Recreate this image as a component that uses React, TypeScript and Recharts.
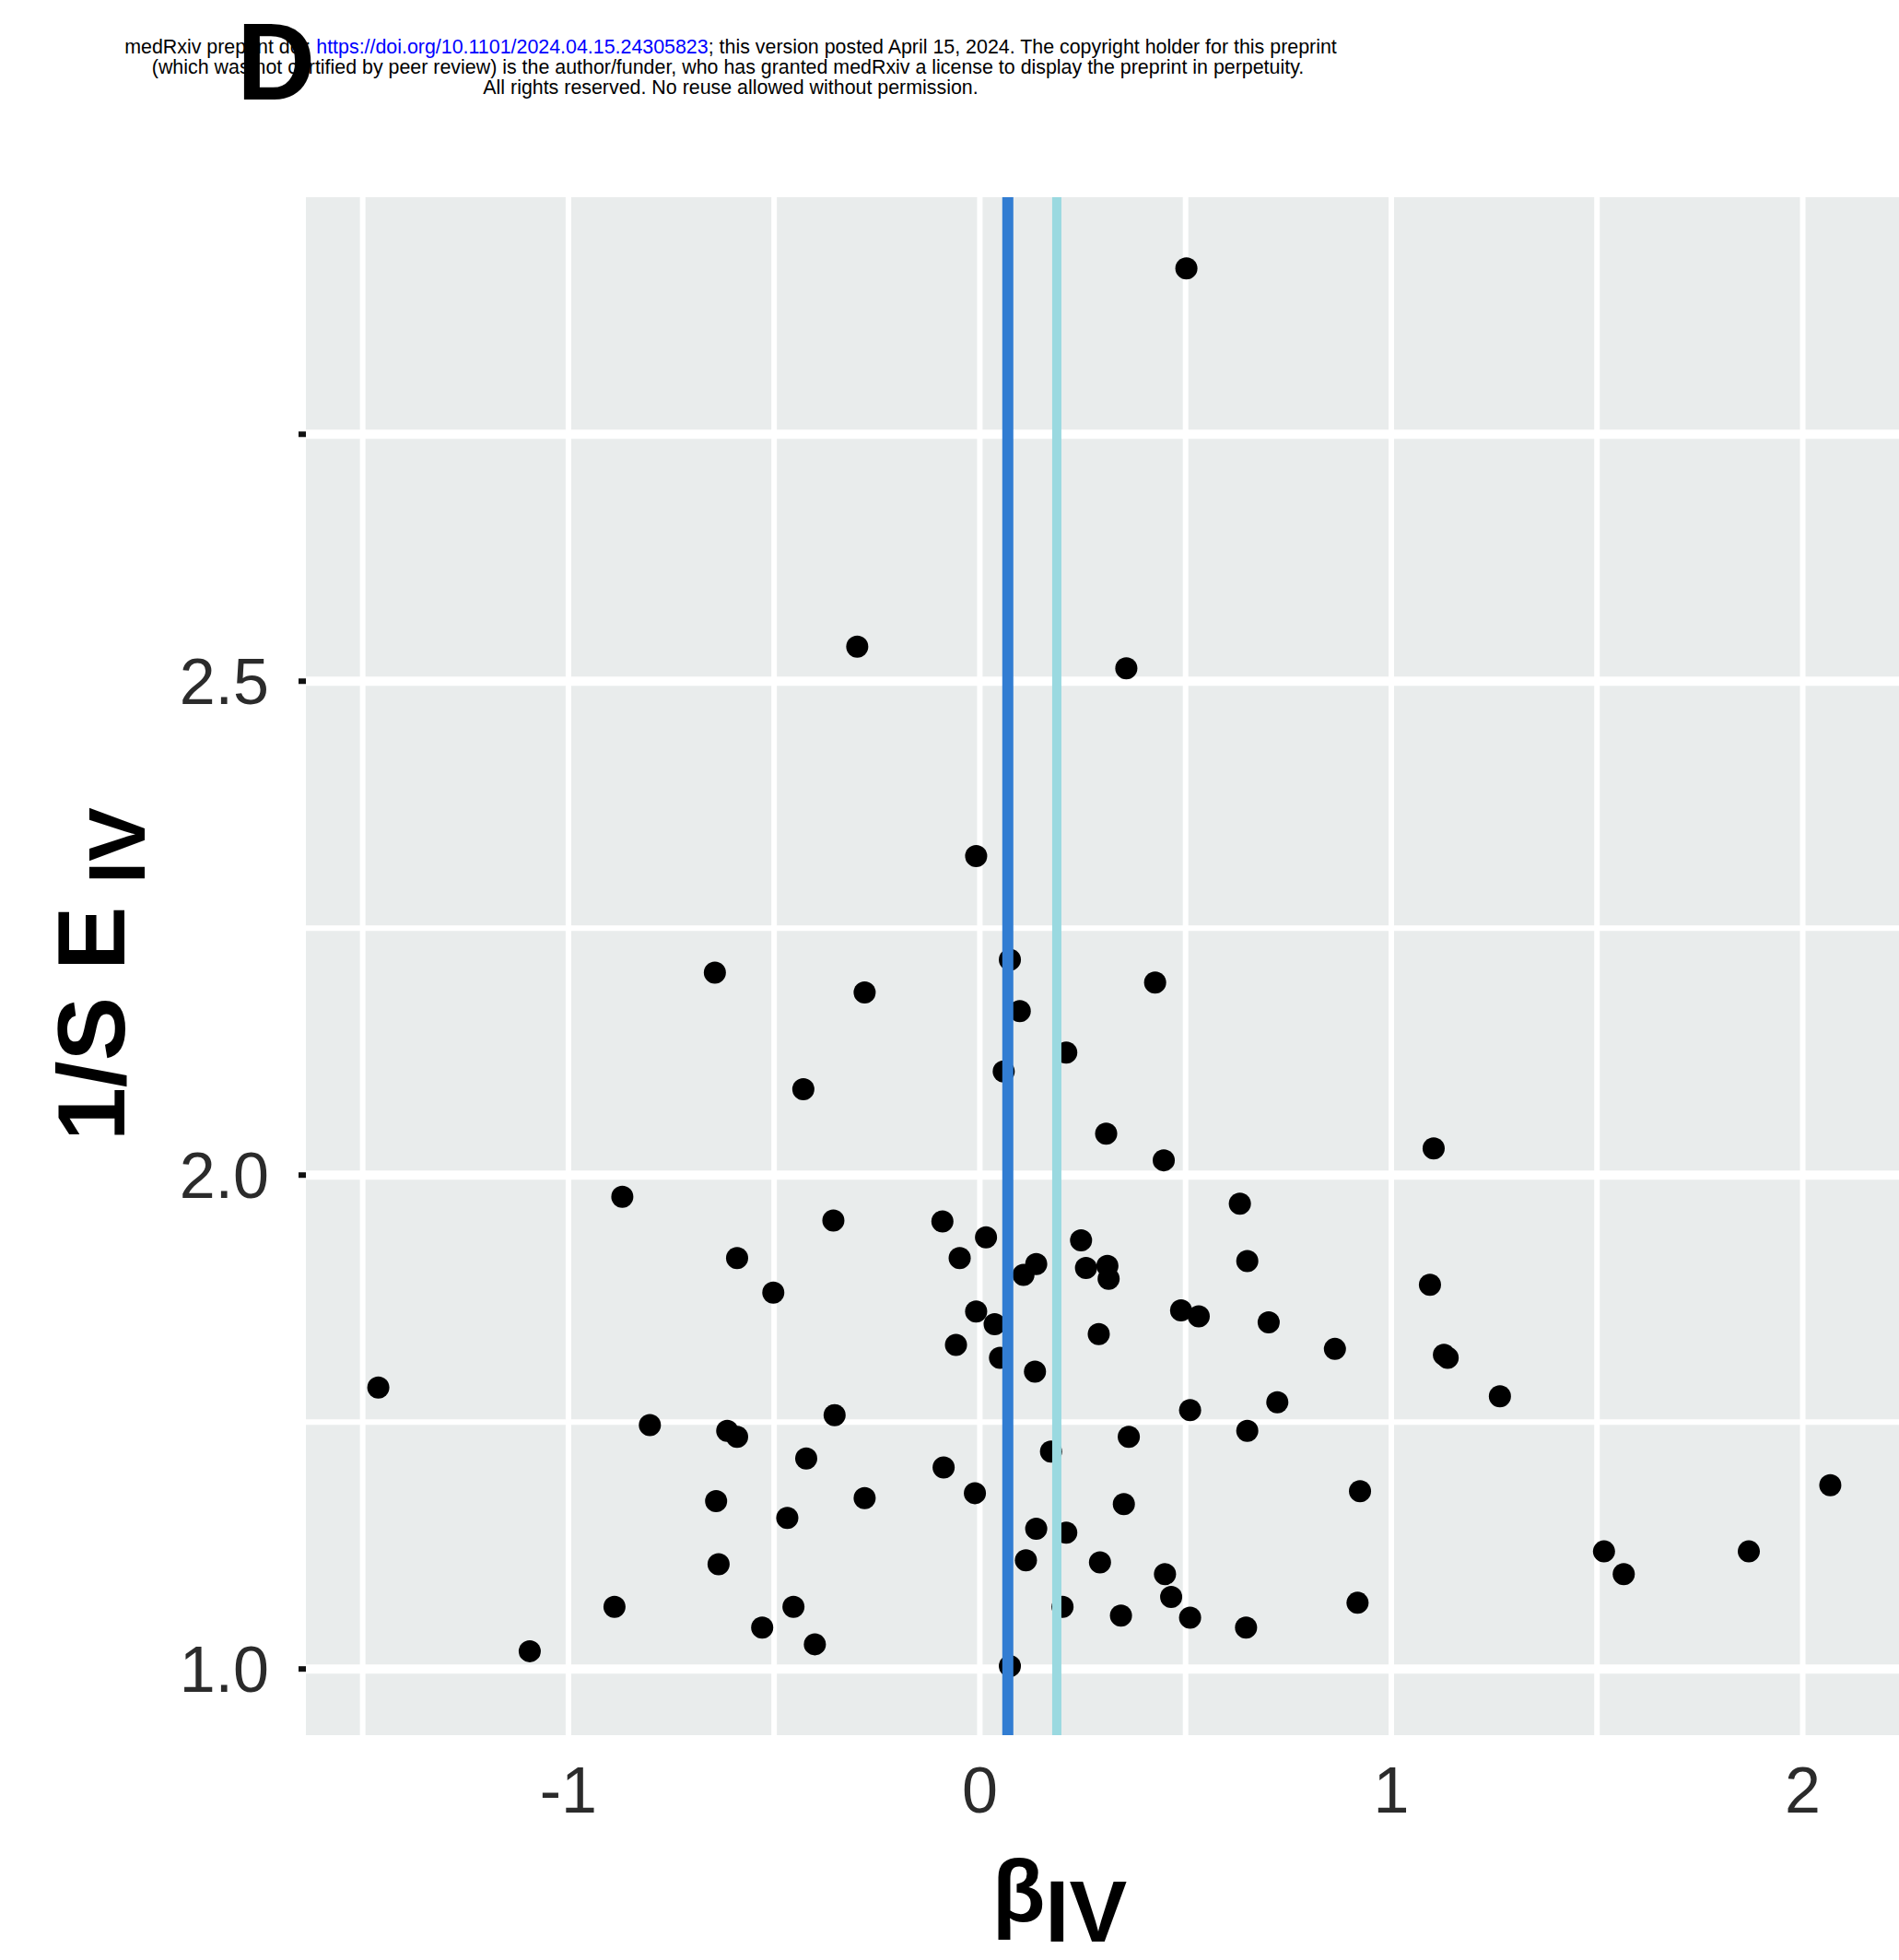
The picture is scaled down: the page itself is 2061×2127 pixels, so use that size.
import React from "react";
import { CartesianGrid, ReferenceLine, Scatter, ScatterChart, XAxis, YAxis } from "recharts";

// beta_IV and 1/SE_IV for each variant
const betaIV = [
  0.502, -0.298, 0.356, -0.009, -0.644, -0.28, 0.073, 0.426, 0.097, 0.21,
  0.058, -0.429, 0.307, 1.103, 0.447, -0.869, 0.632, -0.356, -0.091, 0.015,
  0.246, -0.59, -0.049, 0.137, 0.65, 0.258, 0.31, 0.106, 0.313, 1.094,
  -0.502, -0.009, 0.489, 0.532, 0.036, 0.702, 0.289, -0.058, 0.863, 1.128,
  1.137, 0.049, 0.134, -1.462, 1.264, 0.723, 0.511, -0.353, -0.802, -0.614,
  -0.59, 0.65, 0.362, 0.173, -0.422, -0.088, 2.067, 0.924, -0.012, -0.28,
  -0.641, 0.35, -0.468, 0.137, 0.21, 1.517, 1.869, 0.112, 0.292, -0.635,
  1.565, 0.45, 0.465, 0.918, -0.888, -0.453, 0.201, 0.343, 0.511, -0.529,
  0.647, -0.401, -1.094, 0.073,
];
const invSE = [
  2.918, 2.535, 2.513, 2.323, 2.205, 2.185, 2.218, 2.195, 2.166, 2.124,
  2.105, 2.087, 2.042, 2.027, 2.015, 1.978, 1.971, 1.954, 1.953, 1.937,
  1.934, 1.916, 1.916, 1.91, 1.913, 1.906, 1.908, 1.899, 1.895, 1.889,
  1.881, 1.862, 1.863, 1.857, 1.849, 1.851, 1.839, 1.828, 1.824, 1.818,
  1.815, 1.815, 1.801, 1.785, 1.776, 1.77, 1.762, 1.757, 1.747, 1.741,
  1.735, 1.741, 1.735, 1.72, 1.713, 1.704, 1.686, 1.68, 1.678, 1.673,
  1.67, 1.667, 1.653, 1.642, 1.638, 1.619, 1.619, 1.61, 1.608, 1.606,
  1.596, 1.596, 1.573, 1.567, 1.563, 1.563, 1.563, 1.554, 1.552, 1.542,
  1.542, 1.525, 1.518, 1.503,
];

const xTicks = [-1, 0, 1, 2];
const xTickLabels = ["-1", "0", "1", "2"];
const yTicks = [1.5, 2, 2.5, 2.75];
const yTickLabels = ["1.0", "2.0", "2.5", ""];
const xGrid = [-1.5, -1, -0.5, 0, 0.5, 1, 1.5, 2];
const yGridMajor = [1.5, 2, 2.5, 2.75];
const yGridMinor = [1.75, 2.25];
const estimateDark = 0.068;
const estimateLight = 0.187;

const points = betaIV.map((b, i) => ({ b, s: invSE[i] }));

const FONT = "'Liberation Sans', Arial, sans-serif";

const Dot = (props: any) => <circle cx={props.cx} cy={props.cy} r={12} fill="#000" />;

function XTitle() {
  return (
    <text x={1150} y={2085} textAnchor="middle" fontFamily={FONT} fontWeight="bold" fontSize={94} fill="#000">
      β<tspan dy={22}>IV</tspan>
    </text>
  );
}

function YTitle() {
  return (
    <text
      x={135}
      y={1057}
      transform="rotate(-90, 135, 1057)"
      textAnchor="middle"
      fontFamily={FONT}
      fontWeight="bold"
      fontSize={104}
      fill="#000"
    >
      1/S E<tspan dy={22} fontSize={88}> IV</tspan>
    </text>
  );
}

export default function App() {
  return (
    <div style={{ position: "absolute", left: 0, top: 0, width: 2061, height: 2127, background: "#fff" }}>
      <ScatterChart width={2061} height={2127} margin={{ top: 214, right: 0, bottom: 0, left: 0 }}>
        <CartesianGrid
          fill="#e9ecec"
          stroke="#ffffff"
          strokeWidth={10}
          vertical={false}
          horizontalValues={yGridMajor}
        />
        <CartesianGrid
          stroke="#ffffff"
          strokeWidth={6}
          horizontalValues={yGridMinor}
          verticalValues={xGrid}
        />
        <XAxis
          type="number"
          dataKey="b"
          domain={[-1.638, 2.234]}
          allowDataOverflow
          ticks={xTicks}
          tickFormatter={(v: number) => xTickLabels[xTicks.indexOf(v)] ?? ""}
          height={244}
          axisLine={false}
          tickLine={false}
          tickSize={0}
          tickMargin={34}
          tick={{ fontSize: 70, fill: "#2b2b2b", fontFamily: FONT }}
          label={{ content: () => <XTitle /> }}
        />
        <YAxis
          type="number"
          dataKey="s"
          domain={[1.433, 2.99]}
          allowDataOverflow
          ticks={yTicks}
          tickFormatter={(v: number) => yTickLabels[yTicks.indexOf(v)] ?? ""}
          width={332}
          axisLine={false}
          tickLine={{ stroke: "#111", strokeWidth: 6 }}
          tickSize={8}
          tickMargin={32}
          tick={{ fontSize: 70, fill: "#2b2b2b", fontFamily: FONT }}
          label={{ content: () => <YTitle /> }}
        />
        <Scatter data={points} shape={Dot} isAnimationActive={false} />
        <ReferenceLine x={estimateDark} stroke="#327dd2" strokeWidth={12} zIndex={700} />
        <ReferenceLine x={estimateLight} stroke="#9ad9e0" strokeWidth={10} zIndex={700} />
      </ScatterChart>
      <svg
        width={2061}
        height={130}
        style={{ position: "absolute", left: 0, top: 0, pointerEvents: "none" }}
      >
        <g fontFamily={FONT} fontSize={21.4} fill="#000" textAnchor="middle">
          <text x={793} y={58}>
            medRxiv preprint doi: <tspan fill="#0000ff">https://doi.org/10.1101/2024.04.15.24305823</tspan>; this
            version posted April 15, 2024. The copyright holder for this preprint
          </text>
          <text x={790} y={80}>
            (which was not certified by peer review) is the author/funder, who has granted medRxiv a license to
            display the preprint in perpetuity.
          </text>
          <text x={793} y={102}>All rights reserved. No reuse allowed without permission.</text>
        </g>
        <text x={257} y={108} fontFamily={FONT} fontWeight="bold" fontSize={118} fill="#000">
          D
        </text>
      </svg>
    </div>
  );
}
